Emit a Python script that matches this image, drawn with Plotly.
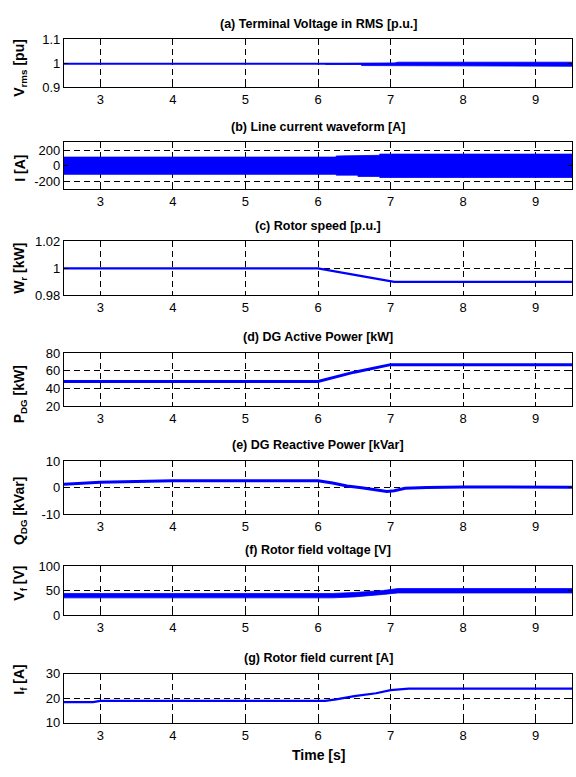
import plotly.graph_objects as go

# ---- time axis ----
x_range = [2.5, 9.5]
x_ticks = [3, 4, 5, 6, 7, 8, 9]

# (a) terminal voltage RMS [p.u.]
t_vrms = [2.5, 9.5]
vrms = [0.998, 0.998]
t_vrms_band = [6.1, 6.6, 6.6, 7.05, 7.1, 9.5]
vrms_hi = [0.999, 0.999, 1.001, 1.001, 1.005, 1.005]
vrms_lo = [0.996, 0.996, 0.991, 0.991, 0.988, 0.988]

# (b) line current envelope [A]
t_iline = [2.5, 6.25, 6.25, 6.55, 6.55, 6.85, 6.85, 9.5]
iline_hi = [112, 112, 126, 126, 135, 135, 150, 150]
iline_lo = [-108, -108, -118, -118, -135, -135, -148, -148]

# (c) rotor speed [p.u.]
t_wr = [2.5, 6.0, 7.05, 9.5]
wr = [1.0, 1.0, 0.99, 0.99]

# (d) DG active power [kW]
t_pdg = [2.5, 6.0, 6.5, 7.0, 9.5]
pdg = [48, 48, 58.5, 67, 67]

# (e) DG reactive power [kVar]
t_qdg = [2.5, 2.8, 3.0, 4.0, 5.0, 6.0, 6.2, 6.4, 6.6, 6.8, 6.95, 7.05, 7.2, 7.5, 8.0, 9.5]
qdg = [1.2, 1.8, 2.0, 2.6, 2.7, 2.6, 1.7, 0.6, -0.1, -1.0, -1.5, -1.2, -0.3, 0.0, 0.2, 0.1]

# (f) rotor field voltage envelope [V]
t_vf = [2.5, 6.2, 6.5, 6.9, 7.1, 9.5]
vf_hi = [44, 44, 46, 50, 54, 54]
vf_lo = [35, 35, 37, 42, 45, 45]

# (g) rotor field current [A]
t_if = [2.5, 2.9, 3.0, 6.1, 6.25, 6.5, 6.8, 7.0, 7.25, 9.5]
i_f = [18.5, 18.5, 19.0, 19.0, 19.6, 20.9, 22.1, 23.4, 24.0, 24.0]

panel_titles = [
    "(a) Terminal Voltage in RMS [p.u.]",
    "(b) Line current waveform [A]",
    "(c) Rotor speed [p.u.]",
    "(d) DG Active Power [kW]",
    "(e) DG Reactive Power [kVar]",
    "(f) Rotor field voltage [V]",
    "(g) Rotor field current [A]",
]
y_labels = [
    "V<sub>rms</sub> [pu]",
    "I [A]",
    "W<sub>r</sub> [kW]",
    "P<sub>DG</sub> [kW]",
    "Q<sub>DG</sub> [kVar]",
    "V<sub>f</sub> [V]",
    "I<sub>f</sub> [A]",
]
y_ranges = [[0.9, 1.1], [-300, 300], [0.98, 1.02], [20, 80], [-10, 10], [0, 100], [10, 30]]
y_tickvals = [
    [0.9, 1.0, 1.1],
    [-200, 0, 200],
    [0.98, 1.0, 1.02],
    [20, 40, 60, 80],
    [-10, 0, 10],
    [0, 50, 100],
    [10, 20, 30],
]
y_ticktext = [
    ["0.9", "1", "1.1"],
    ["-200", "0", "200"],
    ["0.98", "1", "1.02"],
    ["20", "40", "60", "80"],
    ["-10", "0", "10"],
    ["0", "50", "100"],
    ["10", "20", "30"],
]

# layout geometry in pixels
W, H = 576, 777
box_left, box_right = 64, 572
box_tops = [33, 138, 239, 353, 463, 570, 680]
box_bottoms = [82, 186, 294, 407, 517, 620, 730]
label_centers = [62, 165, 267, 395, 514, 588, 686]

BLUE = "#0000ff"
FONT = "Liberation Sans, Arial, Helvetica, sans-serif"

fig = go.Figure()


def band(t, hi, lo, k):
    xs = list(t) + list(t)[::-1]
    ys = list(hi) + list(lo)[::-1]
    fig.add_trace(go.Scatter(x=xs, y=ys, fill="toself", fillcolor=BLUE,
                             line=dict(color=BLUE, width=0.8), mode="lines",
                             xaxis=f"x{k}", yaxis=f"y{k}", hoverinfo="skip"))


def line(t, v, k, w=1.5):
    fig.add_trace(go.Scatter(x=t, y=v, mode="lines", line=dict(color=BLUE, width=w),
                             xaxis=f"x{k}", yaxis=f"y{k}"))


# (a)
line(t_vrms, vrms, "", 2)
band(t_vrms_band, vrms_hi, vrms_lo, "")
# (b)
band(t_iline, iline_hi, iline_lo, 2)
# (c)
line(t_wr, wr, 3, 2.2)
# (d)
line(t_pdg, pdg, 4, 3)
# (e)
line(t_qdg, qdg, 5, 3)
# (f)
band(t_vf, vf_hi, vf_lo, 6)
# (g)
line(t_if, i_f, 7, 2.2)

layout = dict(
    width=W, height=H,
    margin=dict(l=0, r=0, t=0, b=0),
    paper_bgcolor="white", plot_bgcolor="white",
    showlegend=False,
    font=dict(family=FONT, size=13, color="black"),
)

annotations = []
for i in range(7):
    k = "" if i == 0 else str(i + 1)
    ydom = [1 - box_bottoms[i] / H, 1 - box_tops[i] / H]
    layout[f"xaxis{k}"] = dict(
        domain=[box_left / W, box_right / W], range=x_range,
        anchor=f"y{k}", tickvals=x_ticks, ticks="inside", ticklen=4,
        tickcolor="black", showline=True, linecolor="black", linewidth=1.2,
        mirror="ticks", showgrid=True, gridcolor="black", gridwidth=1,
        griddash="6px,4px", zeroline=False,
        tickfont=dict(size=13, family=FONT),
    )
    layout[f"yaxis{k}"] = dict(
        domain=ydom, range=y_ranges[i], anchor=f"x{k}",
        tickvals=y_tickvals[i], ticktext=y_ticktext[i],
        ticks="inside", ticklen=4, tickcolor="black",
        showline=True, linecolor="black", linewidth=1.2, mirror="ticks",
        showgrid=True, gridcolor="black", gridwidth=1, griddash="6px,4px",
        zeroline=False, tickfont=dict(size=13, family=FONT),
    )
    annotations.append(dict(
        text=f"<b>{panel_titles[i]}</b>", x=(box_left + box_right) / 2 / W,
        y=1 - (box_tops[i] - 16) / H, xref="paper", yref="paper",
        showarrow=False, xanchor="center", yanchor="middle",
        font=dict(size=12.5, family=FONT),
    ))
    annotations.append(dict(
        text=f"<b>{y_labels[i]}</b>", x=20 / W, y=1 - label_centers[i] / H,
        xref="paper", yref="paper", showarrow=False, textangle=-90,
        xanchor="center", yanchor="middle", font=dict(size=14, family=FONT),
    ))

annotations.append(dict(
    text="<b>Time [s]</b>", x=(box_left + box_right) / 2 / W, y=1 - 763 / H,
    xref="paper", yref="paper", showarrow=False, xanchor="center",
    yanchor="middle", font=dict(size=14, family=FONT),
))
layout["annotations"] = annotations

fig.update_layout(**layout)
fig.write_html("out.html")
